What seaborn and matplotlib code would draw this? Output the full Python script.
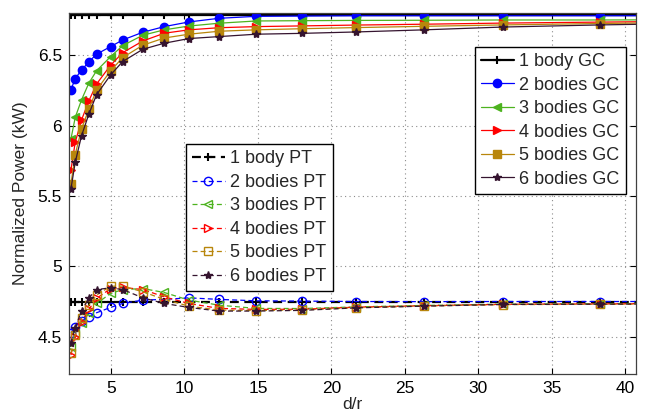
import matplotlib
matplotlib.use("Agg")
import matplotlib.pyplot as plt
import seaborn as sns
import pandas as pd

# d/r sample points (last one lies past the right edge of the axes)
d_r = [2.28, 2.57, 3.0, 3.5, 4.02, 4.98, 5.8, 7.17, 8.63, 10.3, 12.35,
       14.88, 18.0, 21.7, 26.3, 31.7, 38.3, 46.0]

# grid-connected (GC) power
gc_1 = [6.785] * 18
gc_2 = [6.254, 6.334, 6.394, 6.453, 6.507, 6.561, 6.608, 6.663, 6.703, 6.736, 6.762,
        6.776, 6.778, 6.78, 6.78, 6.78, 6.78, 6.78]
gc_3 = [5.905, 6.058, 6.183, 6.302, 6.389, 6.490, 6.568, 6.642, 6.680, 6.707, 6.727,
        6.743, 6.745, 6.747, 6.748, 6.75, 6.75, 6.752]
gc_4 = [5.686, 5.881, 6.040, 6.176, 6.295, 6.429, 6.518, 6.601, 6.656, 6.680, 6.695,
        6.703, 6.708, 6.714, 6.72, 6.728, 6.735, 6.742]
gc_5 = [5.586, 5.794, 5.976, 6.118, 6.252, 6.389, 6.483, 6.571, 6.622, 6.649, 6.670,
        6.680, 6.688, 6.696, 6.705, 6.715, 6.725, 6.735]
gc_6 = [5.551, 5.739, 5.928, 6.082, 6.219, 6.360, 6.455, 6.542, 6.585, 6.618, 6.632,
        6.649, 6.655, 6.665, 6.68, 6.70, 6.715, 6.728]

# PT power
pt_1 = [4.745] * 18
pt_2 = [4.528, 4.571, 4.611, 4.642, 4.670, 4.708, 4.736, 4.760, 4.765, 4.776, 4.765,
        4.755, 4.753, 4.750, 4.749, 4.750, 4.750, 4.750]
pt_3 = [4.429, 4.524, 4.599, 4.665, 4.736, 4.807, 4.835, 4.842, 4.814, 4.760, 4.724,
        4.701, 4.700, 4.712, 4.722, 4.732, 4.735, 4.737]
pt_4 = [4.370, 4.495, 4.606, 4.694, 4.772, 4.842, 4.850, 4.835, 4.783, 4.736, 4.701,
        4.694, 4.695, 4.710, 4.720, 4.730, 4.733, 4.736]
pt_5 = [4.382, 4.512, 4.630, 4.724, 4.795, 4.859, 4.859, 4.819, 4.765, 4.717, 4.689,
        4.686, 4.690, 4.706, 4.718, 4.728, 4.730, 4.733]
pt_6 = [4.453, 4.564, 4.682, 4.776, 4.835, 4.847, 4.835, 4.776, 4.736, 4.708, 4.682,
        4.682, 4.687, 4.705, 4.717, 4.729, 4.731, 4.734]

gc_labels = ["1 body GC", "2 bodies GC", "3 bodies GC", "4 bodies GC", "5 bodies GC", "6 bodies GC"]
pt_labels = ["1 body PT", "2 bodies PT", "3 bodies PT", "4 bodies PT", "5 bodies PT", "6 bodies PT"]

colors = ["black", "blue", "#4db31f", "red", "#b8860b", "#35142f"]
markers = ["+", "o", "<", ">", "s", "*"]

sns.set_theme(style="white")
plt.rcParams["font.family"] = ["Liberation Sans", "DejaVu Sans"]

fig = plt.figure(figsize=(6.5, 4.15), dpi=100)
ax = fig.add_axes([0.106, 0.0988, 0.872, 0.870])

gc_handles = []
for vals, lab, c, m in zip([gc_1, gc_2, gc_3, gc_4, gc_5, gc_6], gc_labels, colors, markers):
    df = pd.DataFrame({"d_r": d_r, "P": vals})
    lw = 1.6 if lab.startswith("1 ") else 0.9
    sns.lineplot(data=df, x="d_r", y="P", ax=ax, color=c, marker=m,
                 markersize=6, markeredgewidth=1.0 if m != "+" else 1.5,
                 markerfacecolor=c, markeredgecolor=c, linewidth=lw, label=lab,
                 legend=False)
    gc_handles.append(ax.lines[-1])

pt_handles = []
for vals, lab, c, m in zip([pt_1, pt_2, pt_3, pt_4, pt_5, pt_6], pt_labels, colors, markers):
    df = pd.DataFrame({"d_r": d_r, "P": vals})
    lw = 1.6 if lab.startswith("1 ") else 0.9
    face = c if m in ("*", "+") else "none"
    sns.lineplot(data=df, x="d_r", y="P", ax=ax, color=c, marker=m,
                 markersize=6, markeredgewidth=1.0 if m != "+" else 1.5,
                 markerfacecolor=face, markeredgecolor=c, linewidth=lw,
                 linestyle=(0, (4, 2.5)), label=lab, legend=False)
    pt_handles.append(ax.lines[-1])

ax.set_xlim(2.14, 40.7)
ax.set_ylim(4.235, 6.80)
ax.set_xticks([5, 10, 15, 20, 25, 30, 35, 40])
ax.set_yticks([4.5, 5, 5.5, 6, 6.5])
ax.set_yticklabels(["4.5", "5", "5.5", "6", "6.5"])
ax.grid(True, linestyle=(0, (1, 3)), color="0.55", linewidth=0.8)
ax.tick_params(direction="in", length=4, width=0.8, labelsize=12.5, colors="black",
               top=True, right=True, bottom=True, left=True, pad=5)
for s in ax.spines.values():
    s.set_color("0.25")
    s.set_linewidth(0.9)

ax.set_xlabel("d/r", fontsize=12.5, labelpad=1)
ax.set_ylabel("Normalized Power (kW)", fontsize=12.5, labelpad=7)

leg1 = ax.legend(handles=gc_handles, labels=gc_labels, loc="upper right",
                 bbox_to_anchor=(0.9626, 0.8875), bbox_transform=fig.transFigure,
                 borderaxespad=0, fontsize=13, frameon=True, fancybox=False,
                 framealpha=1, edgecolor="black", handlelength=1.8,
                 handletextpad=0.3, labelspacing=0.36, borderpad=0.35)
leg1.get_frame().set_linewidth(1.0)
ax.add_artist(leg1)

leg2 = ax.legend(handles=pt_handles, labels=pt_labels, loc="upper left",
                 bbox_to_anchor=(0.286, 0.653), bbox_transform=fig.transFigure,
                 borderaxespad=0, fontsize=13, frameon=True, fancybox=False,
                 framealpha=1, edgecolor="black", handlelength=1.8,
                 handletextpad=0.3, labelspacing=0.36, borderpad=0.35)
leg2.get_frame().set_linewidth(1.0)

fig.savefig("out.png", dpi=100)
